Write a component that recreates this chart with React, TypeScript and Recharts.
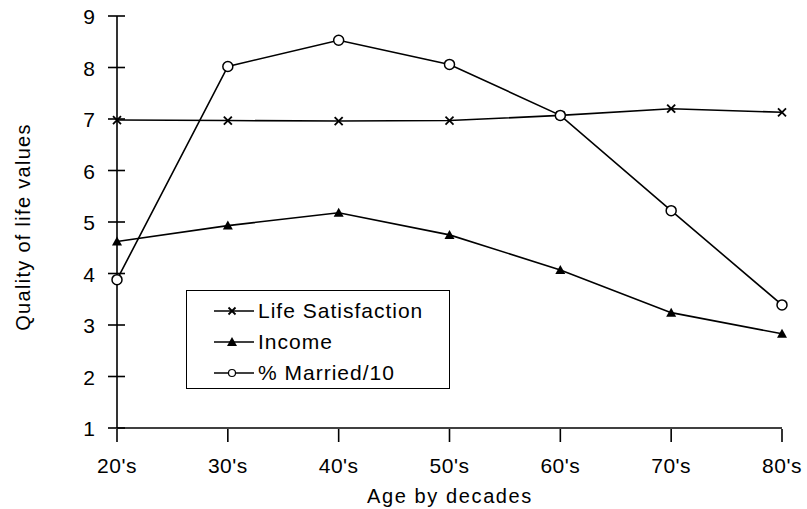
import React from "react"
import { LineChart, Line, XAxis, YAxis } from "recharts"

const decades = ["20's", "30's", "40's", "50's", "60's", "70's", "80's"]
const lifeSatisfaction = [6.98, 6.97, 6.96, 6.97, 7.07, 7.2, 7.13]
const income = [4.62, 4.93, 5.18, 4.75, 4.07, 3.24, 2.83]
const married = [3.88, 8.02, 8.53, 8.06, 7.07, 5.22, 3.39]
const yTicks = [1, 2, 3, 4, 5, 6, 7, 8, 9]

const data = decades.map((d, i) => ({
  decade: d,
  life: lifeSatisfaction[i],
  income: income[i],
  married: married[i],
}))

const font = "'Liberation Sans', Arial, sans-serif"

const CrossDot = (props: any) => {
  const { cx, cy, size = 4 } = props
  const s = size
  return (
    <g stroke="#000" strokeWidth={1.8}>
      <line x1={cx - s} y1={cy - s} x2={cx + s} y2={cy + s} />
      <line x1={cx - s} y1={cy + s} x2={cx + s} y2={cy - s} />
    </g>
  )
}

const TriangleDot = (props: any) => {
  const { cx, cy } = props
  return <polygon points={`${cx},${cy - 5} ${cx - 5},${cy + 4} ${cx + 5},${cy + 4}`} fill="#000" />
}

const CircleDot = (props: any) => {
  const { cx, cy } = props
  return <circle cx={cx} cy={cy} r={5} fill="#fff" stroke="#000" strokeWidth={1.5} />
}

const YTick = (props: any) => {
  const { x, y, payload } = props
  return (
    <g>
      <line x1={x - 1} x2={x + 16} y1={y} y2={y} stroke="#000" strokeWidth={1.6} />
      <text x={x - 14} y={y} dy={8} textAnchor="end" fontSize={21} fontFamily={font} fill="#000">
        {payload.value}
      </text>
    </g>
  )
}

const XTick = (props: any) => {
  const { x, y, payload } = props
  return (
    <g>
      <line x1={x} x2={x} y1={y - 7} y2={y + 6} stroke="#000" strokeWidth={1.6} />
      <text x={x} y={y + 37} textAnchor="middle" fontSize={21} letterSpacing={0.5} fontFamily={font} fill="#000">
        {payload.value}
      </text>
    </g>
  )
}

const XTitle = () => (
  <text x={450} y={503} textAnchor="middle" fontSize={20} letterSpacing={1.6} fontFamily={font} fill="#000">
    Age by decades
  </text>
)

const YTitle = () => (
  <text
    x={30}
    y={227}
    transform="rotate(-90 30 227)"
    textAnchor="middle"
    fontSize={20}
    letterSpacing={1.3}
    fontFamily={font}
    fill="#000"
  >
    Quality of life values
  </text>
)

const legendRows = [
  { label: "Life Satisfaction", dot: "x" },
  { label: "Income", dot: "tri" },
  { label: "% Married/10", dot: "circle" },
]

const LegendBox = () => (
  <div
    style={{
      position: "absolute",
      left: 186,
      top: 290,
      width: 264,
      height: 99,
      border: "1.5px solid #000",
      background: "#fff",
      boxSizing: "border-box",
      paddingTop: 4,
      fontFamily: font,
      fontSize: 21,
      letterSpacing: 1,
    }}
  >
    {legendRows.map((r) => (
      <div key={r.label} style={{ display: "flex", alignItems: "center", height: 31, paddingLeft: 25 }}>
        <svg width={44} height={16}>
          <line x1={2} x2={42} y1={8} y2={8} stroke="#000" strokeWidth={1.4} />
          {r.dot === "x" && <CrossDot cx={20} cy={8} size={3.5} />}
          {r.dot === "tri" && <TriangleDot cx={20} cy={8} />}
          {r.dot === "circle" && <circle cx={20} cy={8} r={3.5} fill="#fff" stroke="#000" strokeWidth={1.2} />}
        </svg>
        <span style={{ marginLeft: 2 }}>{r.label}</span>
      </div>
    ))}
  </div>
)

export default function App() {
  return (
    <div style={{ position: "fixed", left: 0, top: 0, width: 807, height: 509, background: "#fff" }}>
      <LineChart width={807} height={509} data={data} margin={{ top: 16, right: 25, left: 0, bottom: 0 }}>
        <XAxis
          dataKey="decade"
          height={81}
          tick={<XTick />}
          tickLine={false}
          axisLine={{ stroke: "#000", strokeWidth: 1.6 }}
          interval={0}
          label={<XTitle />}
        />
        <YAxis
          domain={[1, 9]}
          ticks={yTicks}
          width={117}
          tick={<YTick />}
          tickLine={false}
          axisLine={{ stroke: "#000", strokeWidth: 1.6 }}
          interval={0}
          label={<YTitle />}
        />
        <Line dataKey="life" stroke="#000" strokeWidth={1.6} dot={<CrossDot />} isAnimationActive={false} />
        <Line dataKey="income" stroke="#000" strokeWidth={1.6} dot={<TriangleDot />} isAnimationActive={false} />
        <Line dataKey="married" stroke="#000" strokeWidth={1.6} dot={<CircleDot />} isAnimationActive={false} />
      </LineChart>
      <LegendBox />
    </div>
  )
}
